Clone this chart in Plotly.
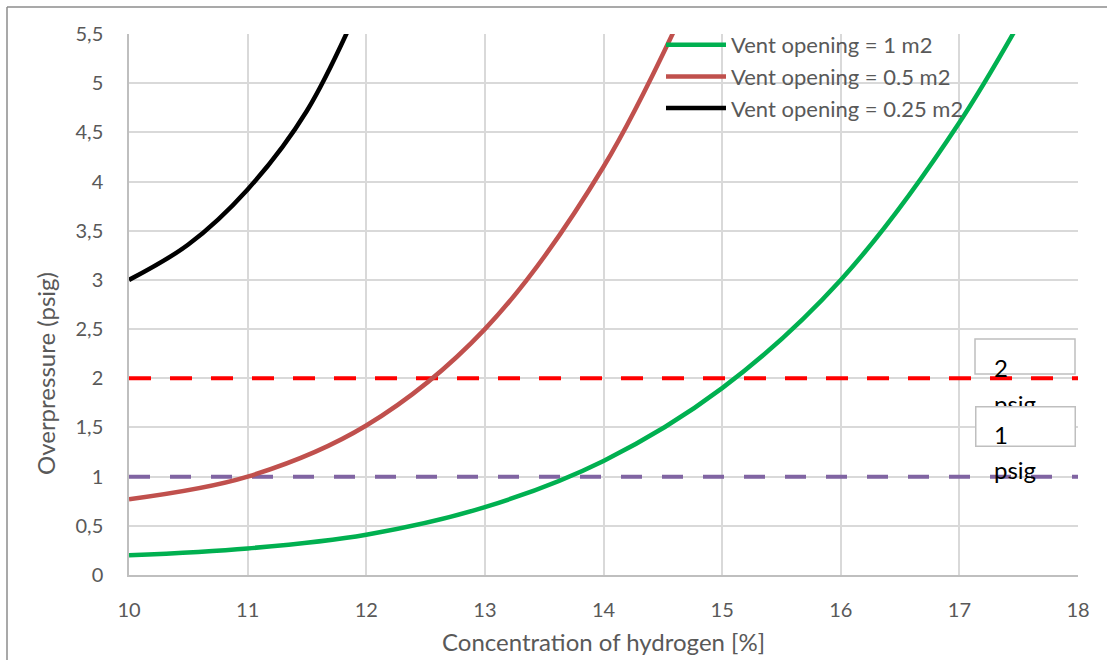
import plotly.graph_objects as go

# ---- data ----
conc_1m2 = [10, 11, 12, 13, 14, 15, 16, 17, 18]
p_1m2 = [0.20, 0.27, 0.41, 0.69, 1.16, 1.90, 3.00, 4.60, 6.70]

conc_05m2 = [10, 11, 12, 13, 14, 15]
p_05m2 = [0.77, 1.00, 1.52, 2.50, 4.15, 6.60]

conc_025m2 = [10, 10.5, 11, 11.5, 12]
p_025m2 = [3.00, 3.36, 3.92, 4.72, 5.95]

limit_x = [10, 18]
limit_2psig = [2, 2]
limit_1psig = [1, 1]

x_ticks = [10, 11, 12, 13, 14, 15, 16, 17, 18]
y_ticks = [0, 0.5, 1, 1.5, 2, 2.5, 3, 3.5, 4, 4.5, 5, 5.5]
y_ticklabels = ["0", "0,5", "1", "1,5", "2", "2,5", "3", "3,5", "4", "4,5", "5", "5,5"]

series_names = ["Vent opening = 1 m2", "Vent opening = 0.5 m2", "Vent opening = 0.25 m2"]

FONT = "Lato"
GRAY = "#595959"

fig = go.Figure()

fig.add_trace(go.Scatter(x=limit_x, y=limit_2psig, mode="lines", showlegend=False,
                         line=dict(color="#FF0000", width=4, dash="22px,19px"), hoverinfo="skip"))
fig.add_trace(go.Scatter(x=limit_x, y=limit_1psig, mode="lines", showlegend=False,
                         line=dict(color="#8064A2", width=4, dash="21px,20px"), hoverinfo="skip"))

fig.add_trace(go.Scatter(x=conc_1m2, y=p_1m2, mode="lines", name=series_names[0],
                         legendgroup="a", line=dict(color="#00B050", width=4.5, shape="spline", smoothing=1.0)))
fig.add_trace(go.Scatter(x=conc_05m2, y=p_05m2, mode="lines", name=series_names[1],
                         legendgroup="b", line=dict(color="#C0504D", width=4.5, shape="spline", smoothing=1.0)))
fig.add_trace(go.Scatter(x=conc_025m2, y=p_025m2, mode="lines", name=series_names[2],
                         legendgroup="c", line=dict(color="#000000", width=4.5, shape="spline", smoothing=1.0)))

L, R, T, B = 129, 1078, 34, 575
W, H = 1107, 660
pw, ph = R - L, B - T


def px(x):
    return (x - L) / pw


def py(y):
    return (B - y) / ph


shapes = [
    # outer chart border (left + top visible)
    dict(type="line", xref="paper", yref="paper", x0=px(7), x1=px(7), y0=py(7), y1=py(700),
         line=dict(color="#8C8C8C", width=1.5), layer="above"),
    dict(type="line", xref="paper", yref="paper", x0=px(7), x1=px(1120), y0=py(7), y1=py(7),
         line=dict(color="#8C8C8C", width=1.5), layer="above"),
    # text box for "2 psig"
    dict(type="rect", xref="paper", yref="paper", x0=px(975), x1=px(1075), y0=py(339), y1=py(374),
         line=dict(color="#BFBFBF", width=1.5), fillcolor="white", layer="above"),
]

annotations = [
    # axis titles
    dict(text="Overpressure (psig)", xref="paper", yref="paper", x=px(45), y=py(374),
         xanchor="center", yanchor="middle", textangle=-90, showarrow=False,
         font=dict(family=FONT, size=24, color=GRAY)),
    dict(text="Concentration of hydrogen [%]", xref="paper", yref="paper", x=0.5, y=py(641),
         xanchor="center", yanchor="middle", showarrow=False,
         font=dict(family=FONT, size=24, color=GRAY)),
    # text boxes
    dict(text="2", xref="paper", yref="paper", x=px(992), y=py(384), xanchor="left", yanchor="bottom",
         showarrow=False, font=dict(family=FONT, size=24, color="black")),
    dict(text="psig", xref="paper", yref="paper", x=px(992), y=py(420), xanchor="left", yanchor="bottom",
         showarrow=False, font=dict(family=FONT, size=24, color="black")),
    dict(text="", xref="paper", yref="paper", x=px(975), y=py(406), xanchor="left", yanchor="top",
         width=98, height=38, borderpad=0, bgcolor="white", bordercolor="#BFBFBF", borderwidth=1.5,
         showarrow=False),
    dict(text="1", xref="paper", yref="paper", x=px(992), y=py(451), xanchor="left", yanchor="bottom",
         showarrow=False, font=dict(family=FONT, size=24, color="black")),
    dict(text="psig", xref="paper", yref="paper", x=px(992), y=py(486), xanchor="left", yanchor="bottom",
         showarrow=False, font=dict(family=FONT, size=24, color="black")),
]

fig.update_layout(
    width=W, height=H,
    margin=dict(l=L, r=W - R, t=T, b=H - B, pad=0, autoexpand=False),
    paper_bgcolor="white", plot_bgcolor="white",
    font=dict(family=FONT, color=GRAY, size=20),
    showlegend=True,
    legend=dict(x=px(661), y=py(24), xanchor="left", yanchor="top", bgcolor="rgba(0,0,0,0)",
                font=dict(family=FONT, size=22, color=GRAY), tracegroupgap=0,
                itemwidth=60, borderwidth=0),
    shapes=shapes,
    annotations=annotations,
)

fig.update_xaxes(
    range=[10, 18], tickvals=x_ticks, ticktext=[str(v) for v in x_ticks],
    showgrid=True, gridcolor="#D9D9D9", gridwidth=1.5,
    showline=True, linecolor="#BFBFBF", linewidth=1.5,
    zeroline=False, ticks="", ticklabelstandoff=16,
    tickfont=dict(family=FONT, size=20, color=GRAY),
)
fig.update_yaxes(
    range=[0, 5.5], tickvals=y_ticks, ticktext=y_ticklabels,
    showgrid=True, gridcolor="#D9D9D9", gridwidth=1.5,
    showline=True, linecolor="#BFBFBF", linewidth=1.5,
    zeroline=False, ticks="", ticklabelstandoff=20,
    tickfont=dict(family=FONT, size=20, color=GRAY),
)

fig.write_html("out.html", config={"displayModeBar": False},
               post_script="document.body.style.margin='0';document.body.style.overflow='hidden';")
